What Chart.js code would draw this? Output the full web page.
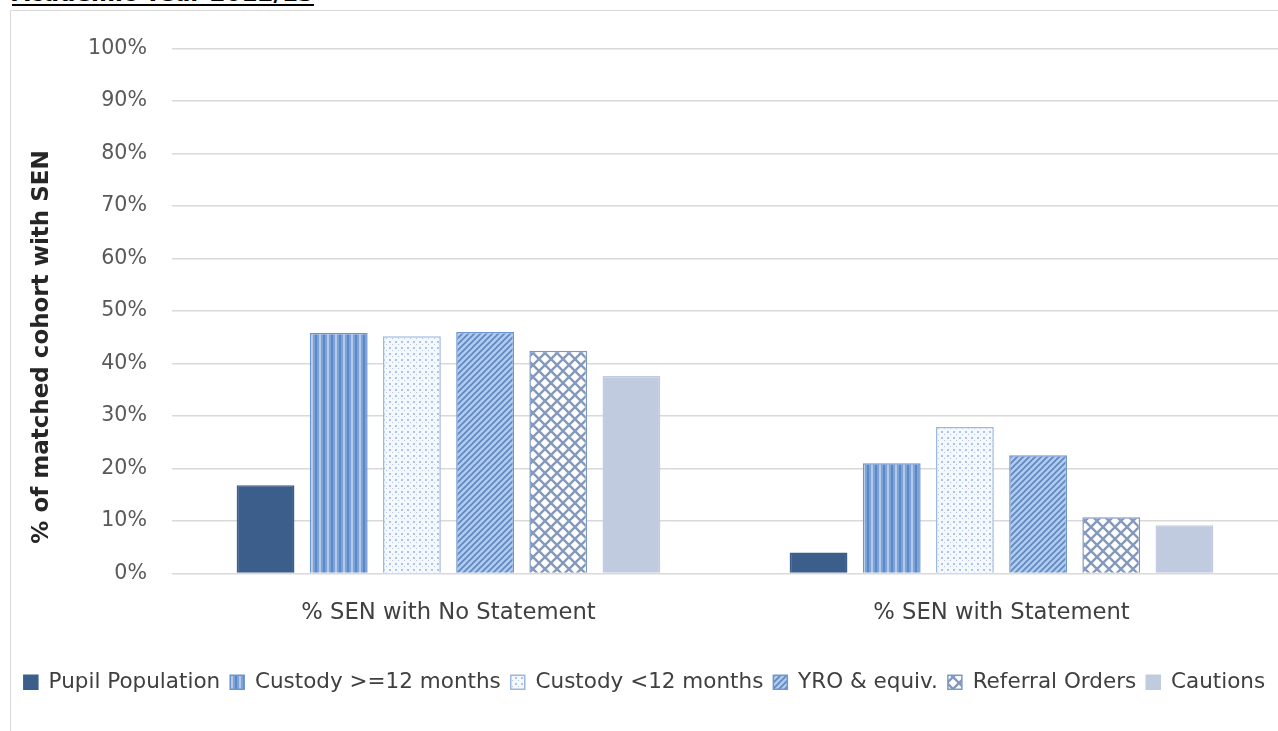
<!DOCTYPE html>
<html>
<head>
<meta charset="utf-8">
<script src="https://cdn.jsdelivr.net/npm/chart.js@4.4.1/dist/chart.umd.min.js"></script>
<style>
    body { margin: 0; background: #fff; overflow: hidden; width: 1278px; height: 731px; position: relative; }
    #title {
        position: absolute; left: 12px; top: -18px; line-height: 1;
        font-family: "DejaVu Sans", sans-serif; font-weight: bold; font-size: 23px;
        text-decoration: underline; text-decoration-thickness: 2px; text-underline-offset: 3px;
        color: #000; white-space: nowrap;
    }
    #frame {
        position: absolute; left: 10px; top: 10px; width: 1300px; height: 730px;
        border-left: 1px solid #d9d9d9; border-top: 1px solid #d9d9d9;
    }
    #chart { position: absolute; left: 0; top: 0; }
</style>
</head>
<body>
<div id="title">Academic Year 2012/13</div>
<div id="frame">
    <canvas id="chart" width="1267" height="720"></canvas>
</div>
<script>
    const categories = ['% SEN with No Statement', '% SEN with Statement'];
    const seriesNames = ['Pupil Population', 'Custody >=12 months', 'Custody <12 months', 'YRO & equiv.', 'Referral Orders', 'Cautions'];

    const pupilPopulation = [16.8, 4.0];
    const custodyLong = [45.8, 21.0];
    const custodyShort = [45.2, 27.9];
    const yro = [46.0, 22.5];
    const referralOrders = [42.4, 10.7];
    const cautions = [37.6, 9.2];

    const yTicks = [0, 10, 20, 30, 40, 50, 60, 70, 80, 90, 100];

    const FONT = '"DejaVu Sans", sans-serif';

    // small canvas tiles for the excel-style fill patterns
    function makePattern(size, draw) {
        const c = document.createElement('canvas');
        c.width = size;
        c.height = size;
        const g = c.getContext('2d');
        draw(g, size);
        return document.getElementById('chart').getContext('2d').createPattern(c, 'repeat');
    }

    const wavePattern = makePattern(8, function (g, s) {
        g.fillStyle = '#7ea3d6';
        g.fillRect(0, 0, s, s);
        g.fillStyle = '#5b88c6';
        g.fillRect(0, 0, 2, s);
        g.fillStyle = '#b3c9e9';
        g.fillRect(4, 0, 2, s);
    });

    const dotPattern = makePattern(6, function (g, s) {
        g.fillStyle = '#f5f8fd';
        g.fillRect(0, 0, s, s);
        g.fillStyle = '#adc4e6';
        g.fillRect(0, 0, 2, 2);
        g.fillRect(3, 3, 1, 1);
    });

    const diagPattern = makePattern(6, function (g, s) {
        g.fillStyle = '#b4cae9';
        g.fillRect(0, 0, s, s);
        g.strokeStyle = '#5b87c4';
        g.lineWidth = 1.6;
        g.beginPath();
        g.moveTo(-1, s + 1);
        g.lineTo(s + 1, -1);
        g.moveTo(-1, 1);
        g.lineTo(1, -1);
        g.moveTo(s - 1, s + 1);
        g.lineTo(s + 1, s - 1);
        g.stroke();
    });

    const crossPattern = makePattern(12, function (g, s) {
        g.fillStyle = '#ffffff';
        g.fillRect(0, 0, s, s);
        g.strokeStyle = '#8499bb';
        g.lineWidth = 2.4;
        g.beginPath();
        g.moveTo(0, 0); g.lineTo(s, s);
        g.moveTo(s, 0); g.lineTo(0, s);
        g.stroke();
    });

    const seriesData = [pupilPopulation, custodyLong, custodyShort, yro, referralOrders, cautions];
    const fills = ['#3b5e8b', wavePattern, dotPattern, diagPattern, crossPattern, '#c0cbe0'];
    const borders = ['#3b5e8b', '#6c95cd', '#9db8e0', '#6f97cf', '#7b98c6', '#c0cbe0'];

    const datasets = seriesNames.map(function (name, i) {
        return {
            label: name,
            data: seriesData[i],
            backgroundColor: fills[i],
            borderColor: borders[i],
            borderWidth: 1.5,
            barPercentage: 0.79,
            categoryPercentage: 0.794
        };
    });

    new Chart(document.getElementById('chart'), {
        type: 'bar',
        data: { labels: categories, datasets: datasets },
        options: {
            responsive: false,
            animation: false,
            layout: { padding: { top: 27, right: 0, left: 0, bottom: 28 } },
            plugins: {
                tooltip: { enabled: false },
                legend: {
                    position: 'bottom',
                    labels: {
                        boxWidth: 14,
                        boxHeight: 14,
                        padding: 10,
                        color: '#404040',
                        font: { family: FONT, size: 21.5 }
                    }
                }
            },
            scales: {
                x: {
                    grid: { display: false },
                    border: { color: '#d9d9d9' },
                    afterFit: function (axis) { axis.height = 88; },
                    ticks: { color: '#404040', padding: 18, font: { family: FONT, size: 22.7 } }
                },
                y: {
                    min: 0,
                    max: 100,
                    afterBuildTicks: function (axis) {
                        axis.ticks = yTicks.map(function (v) { return { value: v }; });
                    },
                    afterFit: function (axis) { axis.width = 161; },
                    grid: { color: '#d9d9d9', lineWidth: 1.5, drawTicks: false },
                    border: { display: false },
                    ticks: {
                        color: '#595959',
                        padding: 25,
                        font: { family: FONT, size: 20.6 },
                        callback: function (v) { return v + '%'; }
                    },
                    title: {
                        display: true,
                        // trailing spaces push the rotated title down like the excel original
                        text: '% of matched cohort with SEN' + '\u00a0'.repeat(9),
                        color: '#262626',
                        font: { family: FONT, size: 23, weight: 'bold' },
                        padding: { top: 17, bottom: 0 }
                    }
                }
            }
        }
    });
</script>
</body>
</html>
